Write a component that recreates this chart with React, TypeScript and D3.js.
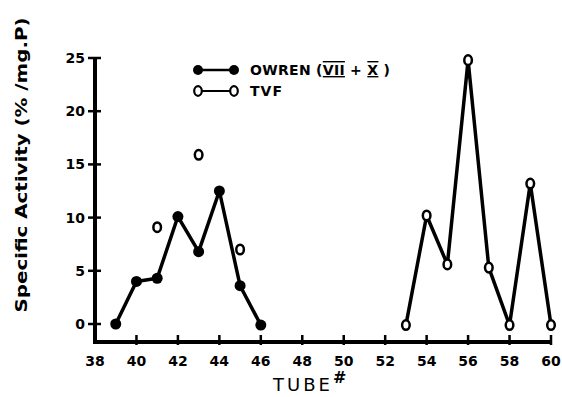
import React, { useRef, useEffect } from 'react';
import * as d3 from 'd3';

const owrenTubes = [39, 40, 41, 42, 43, 44, 45, 46];
const owrenValues = [0, 4.0, 4.3, 10.1, 6.8, 12.5, 3.6, -0.1];

const tvfScatterTubes = [41, 43, 45];
const tvfScatterValues = [9.1, 15.9, 7.0];

const tvfTubes = [53, 54, 55, 56, 57, 58, 59, 60];
const tvfValues = [-0.1, 10.2, 5.6, 24.8, 5.3, -0.1, 13.2, -0.1];

const xTicks = [38, 40, 42, 44, 46, 48, 50, 52, 54, 56, 58, 60];
const yTicks = [0, 5, 10, 15, 20, 25];

const FONT = '"DejaVu Sans", Arial, sans-serif';

const App = () => {
    const svgRef = useRef<SVGSVGElement>(null);

    useEffect(() => {
        const svg = d3.select(svgRef.current);
        svg.selectAll("*").remove();

        const x = d3.scaleLinear().domain([38, 60]).range([95, 551]);
        const y = d3.scaleLinear().domain([0, 25]).range([324, 58]);
        const axisY = 342;

        // axes
        svg.append("line")
            .attr("x1", x(38)).attr("x2", x(38))
            .attr("y1", y(25)).attr("y2", axisY + 2)
            .attr("stroke", "black").attr("stroke-width", 4);
        svg.append("line")
            .attr("x1", x(38) - 2).attr("x2", x(60))
            .attr("y1", axisY).attr("y2", axisY)
            .attr("stroke", "black").attr("stroke-width", 4);

        // y ticks
        svg.append("g").selectAll("line")
            .data(yTicks)
            .join("line")
            .attr("x1", x(38) - 7).attr("x2", x(38) + 6)
            .attr("y1", d => y(d)).attr("y2", d => y(d))
            .attr("stroke", "black").attr("stroke-width", 2.5);
        svg.append("g").selectAll("text")
            .data(yTicks)
            .join("text")
            .attr("x", x(38) - 10)
            .attr("y", d => y(d) + 5)
            .attr("text-anchor", "end")
            .attr("font-family", FONT)
            .attr("font-weight", "bold")
            .attr("font-size", 14)
            .text(d => d);

        // x ticks
        svg.append("g").selectAll("line")
            .data(xTicks.slice(1))
            .join("line")
            .attr("x1", d => x(d)).attr("x2", d => x(d))
            .attr("y1", axisY - 7).attr("y2", axisY + 3)
            .attr("stroke", "black").attr("stroke-width", 2.5);
        svg.append("g").selectAll("text")
            .data(xTicks)
            .join("text")
            .attr("x", d => x(d))
            .attr("y", axisY + 24)
            .attr("text-anchor", "middle")
            .attr("font-family", FONT)
            .attr("font-weight", "bold")
            .attr("font-size", 14)
            .text(d => d);

        // axis titles
        const xt = svg.append("text")
            .attr("x", 273).attr("y", 391)
            .attr("font-family", FONT)
            .attr("font-size", 18)
            .attr("letter-spacing", 3)
            .text("TUBE");
        xt.append("tspan").attr("dy", -8).attr("dx", 0)
            .attr("font-size", 16).attr("font-weight", "bold").text("#");

        svg.append("text")
            .attr("transform", "translate(27,165) rotate(-90)")
            .attr("text-anchor", "middle")
            .attr("font-family", FONT)
            .attr("font-weight", "bold")
            .attr("font-size", 16)
            .attr("textLength", 295)
            .attr("lengthAdjust", "spacingAndGlyphs")
            .text("Specific  Activity  (% /mg.P)");

        const line = d3.line<[number, number]>()
            .x(d => x(d[0]))
            .y(d => y(d[1]));

        // OWREN series
        const owren: [number, number][] = owrenTubes.map((t, i) => [t, owrenValues[i]]);
        svg.append("path")
            .attr("d", line(owren))
            .attr("fill", "none").attr("stroke", "black").attr("stroke-width", 3.5)
            .attr("stroke-linejoin", "round");
        svg.append("g").selectAll("circle")
            .data(owren)
            .join("circle")
            .attr("cx", d => x(d[0])).attr("cy", d => y(d[1]))
            .attr("r", 5.5).attr("fill", "black");

        // TVF series
        const tvf: [number, number][] = tvfTubes.map((t, i) => [t, tvfValues[i]]);
        svg.append("path")
            .attr("d", line(tvf))
            .attr("fill", "none").attr("stroke", "black").attr("stroke-width", 3.5)
            .attr("stroke-linejoin", "round");
        const tvfAll: [number, number][] = tvfScatterTubes.map((t, i) => [t, tvfScatterValues[i]] as [number, number]).concat(tvf);
        svg.append("g").selectAll("ellipse")
            .data(tvfAll)
            .join("ellipse")
            .attr("cx", d => x(d[0])).attr("cy", d => y(d[1]))
            .attr("rx", 3.8).attr("ry", 4.8)
            .attr("fill", "white").attr("stroke", "black").attr("stroke-width", 2.5);

        // legend
        const lg = svg.append("g");
        lg.append("line").attr("x1", 198).attr("x2", 234).attr("y1", 70).attr("y2", 70)
            .attr("stroke", "black").attr("stroke-width", 2.5);
        lg.append("circle").attr("cx", 198).attr("cy", 70).attr("r", 5).attr("fill", "black");
        lg.append("circle").attr("cx", 234).attr("cy", 70).attr("r", 5).attr("fill", "black");
        lg.append("line").attr("x1", 198).attr("x2", 234).attr("y1", 91).attr("y2", 91)
            .attr("stroke", "black").attr("stroke-width", 2);
        lg.append("ellipse").attr("cx", 198).attr("cy", 91).attr("rx", 3.8).attr("ry", 4.8)
            .attr("fill", "white").attr("stroke", "black").attr("stroke-width", 2.2);
        lg.append("ellipse").attr("cx", 234).attr("cy", 91).attr("rx", 3.8).attr("ry", 4.8)
            .attr("fill", "white").attr("stroke", "black").attr("stroke-width", 2.2);

        const t1 = lg.append("text").attr("x", 250).attr("y", 75)
            .attr("font-family", FONT).attr("font-weight", "bold").attr("font-size", 14)
            .attr("letter-spacing", 0.3);
        t1.append("tspan").text("OWREN (");
        t1.append("tspan").attr("text-decoration", "underline overline").text("VII");
        t1.append("tspan").text(" + ");
        t1.append("tspan").attr("text-decoration", "underline overline").text("X");
        t1.append("tspan").text(" )");

        lg.append("text").attr("x", 250).attr("y", 96)
            .attr("font-family", FONT).attr("font-weight", "bold").attr("font-size", 14)
            .attr("letter-spacing", 1)
            .text("TVF");
    }, []);

    return <svg ref={svgRef} width={562} height={397} style={{ position: 'absolute', left: 0, top: 0 }}></svg>;
};

export default App;
